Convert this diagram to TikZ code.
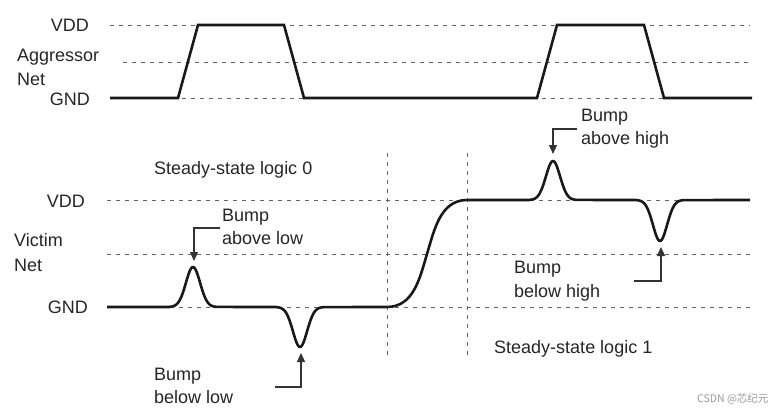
\documentclass[tikz,border=0pt]{standalone}
\usepackage{fontspec}
\setmainfont{Liberation Sans}
\newfontfamily\cjkfont{Noto Sans CJK SC}
\usetikzlibrary{arrows.meta}
\begin{document}
\begin{tikzpicture}[x=1pt,y=-1pt,
 lbl/.style={inner sep=0pt, font=\fontsize{18}{22}\selectfont, text=black!85},
 guide/.style={draw=black!60, line width=0.9pt, dash pattern=on 4pt off 5pt},
 wave/.style={draw=black!90, line width=2.6pt, line join=miter},
 callout/.style={draw=black!80, line width=1.2pt, -{Triangle[width=8pt,length=9pt]}}]
\useasboundingbox[fill=white] (0,0) rectangle (773,410);

% ---------- Aggressor net ----------
\draw[guide] (110,25) -- (750,25);
\draw[guide] (123,62) -- (751,62);
\draw[guide] (110,98) -- (750,98);
\draw[wave] (110,98) -- (178,98) -- (198,25) -- (284,25) -- (304,98) -- (537,98)
  -- (557,25) -- (644,25) -- (664,98) -- (752,98);

\node[lbl, anchor=base east] (avdd) at (89,31.5) {VDD};
\node[lbl, anchor=base west] (aggr) at (17,61) {Aggressor};
\node[lbl, anchor=base west] (anet) at (17,85) {Net};
\node[lbl, anchor=base east] (agnd) at (90,105.5) {GND};

% ---------- Victim net ----------
\draw[guide] (107,200) -- (750,200);
\draw[guide] (107,254) -- (750,254);
\draw[guide] (107,307) -- (750,307);
\draw[guide] (387,153) -- (387,355);
\draw[guide] (467,153) -- (467,355);

\draw[wave] (107,307) -- (168,307)
  -- plot[domain=168:218,samples=50] (\x,{307-40*exp(-(\x-193)*(\x-193)/100)})
  -- (275,307)
  -- plot[domain=275:325,samples=50] (\x,{307+40*exp(-(\x-300)*(\x-300)/100)})
  -- (387,307)
  .. controls (414,307) and (420,277) .. (427,254)
  .. controls (434,231) and (440,200) .. (467,200)
  -- (528,200)
  -- plot[domain=528:578,samples=50] (\x,{200-39*exp(-(\x-553)*(\x-553)/100)})
  -- (635,200)
  -- plot[domain=635:685,samples=50] (\x,{200+41*exp(-(\x-660)*(\x-660)/100)})
  -- (750,200);

\node[lbl, anchor=base east] (vvdd) at (85,207) {VDD};
\node[lbl, anchor=base west] (vict) at (14,246) {Victim};
\node[lbl, anchor=base west] (vnet) at (14,271) {Net};
\node[lbl, anchor=base east] (vgnd) at (88,313) {GND};

\node[lbl, anchor=base west] (ss0) at (154,174) {Steady-state logic 0};
\node[lbl, anchor=base west] (ss1) at (494,353) {Steady-state logic 1};

% callouts
\node[lbl, anchor=base west] (bal1) at (222,221) {Bump};
\node[lbl, anchor=base west] (bal2) at (222,244) {above low};
\coordinate (bals) at (220,228);
\coordinate (balt) at (194,261);
\draw[callout] (bals) -| (balt);

\node[lbl, anchor=base west] (bbl1) at (154,380) {Bump};
\node[lbl, anchor=base west] (bbl2) at (154,403) {below low};
\coordinate (bbls) at (275,387);
\coordinate (bblt) at (301,353);
\draw[callout] (bbls) -| (bblt);

\node[lbl, anchor=base west] (bah1) at (581,121) {Bump};
\node[lbl, anchor=base west] (bah2) at (581,144) {above high};
\coordinate (bahs) at (577,129);
\coordinate (baht) at (553,154);
\draw[callout] (bahs) -| (baht);

\node[lbl, anchor=base west] (bbh1) at (514,273) {Bump};
\node[lbl, anchor=base west] (bbh2) at (514,297) {below high};
\coordinate (bbhs) at (634,281);
\coordinate (bbht) at (661,247);
\draw[callout] (bbhs) -| (bbht);

% watermark
\node[inner sep=0pt, anchor=base west, font=\cjkfont\fontsize{10.5}{12}\selectfont, text=black!40] (wm) at (697,402) {CSDN @芯纪元};
\end{tikzpicture}
\end{document}
